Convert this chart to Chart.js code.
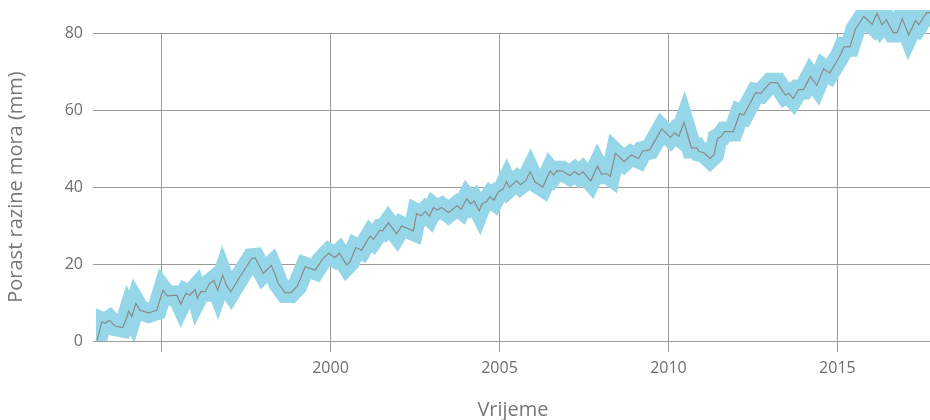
<!DOCTYPE html>
<html>
<head>
<meta charset="utf-8">
<script src="https://cdn.jsdelivr.net/npm/chart.js@4.4.1/dist/chart.umd.min.js"></script>
<style>
  html, body { margin: 0; padding: 0; background: #fff; }
  #wrap { width: 930px; height: 420px; }
</style>
</head>
<body>
<div id="wrap"><canvas id="seaChart"></canvas></div>
<script>
// vrijeme (decimalna godina) i porast razine mora u mm
var years = [
  1993.09, 1993.23, 1993.33, 1993.46, 1993.62, 1993.85, 1993.97, 1994.03, 1994.12, 1994.24,
  1994.36, 1994.61, 1994.86, 1995.04, 1995.17, 1995.45, 1995.57, 1995.72, 1995.84, 1995.99,
  1996.06, 1996.16, 1996.29, 1996.41, 1996.55, 1996.66, 1996.81, 1996.93, 1997.05, 1997.32,
  1997.67, 1997.77, 1998.01, 1998.25, 1998.35, 1998.45, 1998.66, 1998.82, 1999.02, 1999.25,
  1999.55, 1999.74, 1999.94, 2000.13, 2000.26, 2000.48, 2000.58, 2000.75, 2000.92, 2001.17,
  2001.27, 2001.46, 2001.54, 2001.71, 2001.96, 2002.10, 2002.45, 2002.55, 2002.68, 2002.80,
  2002.93, 2003.05, 2003.15, 2003.29, 2003.49, 2003.74, 2003.87, 2004.03, 2004.15, 2004.25,
  2004.40, 2004.48, 2004.62, 2004.72, 2004.84, 2004.97, 2005.10, 2005.21, 2005.29, 2005.51,
  2005.62, 2005.78, 2005.91, 2006.05, 2006.28, 2006.40, 2006.50, 2006.60, 2006.70, 2006.85,
  2007.08, 2007.23, 2007.35, 2007.46, 2007.70, 2007.90, 2008.02, 2008.17, 2008.28, 2008.43,
  2008.69, 2008.90, 2009.12, 2009.23, 2009.45, 2009.80, 2010.06, 2010.18, 2010.31, 2010.46,
  2010.56, 2010.68, 2010.83, 2010.90, 2011.05, 2011.23, 2011.35, 2011.45, 2011.56, 2011.66,
  2011.92, 2012.11, 2012.23, 2012.58, 2012.73, 2013.02, 2013.22, 2013.46, 2013.56, 2013.69,
  2013.85, 2014.00, 2014.20, 2014.39, 2014.59, 2014.77, 2014.99, 2015.10, 2015.19, 2015.37,
  2015.53, 2015.78, 2016.03, 2016.17, 2016.32, 2016.45, 2016.65, 2016.77, 2016.92, 2017.11,
  2017.31, 2017.41, 2017.64, 2017.80
];
var seaLevel = [
  0.1, 5.0, 4.6, 5.4, 3.9, 3.5, 6.1, 7.8, 6.3, 9.8,
  8.0, 7.3, 8.0, 13.2, 11.7, 11.9, 9.6, 12.4, 11.9, 13.4,
  11.1, 12.8, 12.8, 14.8, 15.8, 13.2, 17.1, 14.3, 12.8, 16.7,
  21.5, 21.6, 17.6, 19.6, 17.5, 15.0, 12.5, 12.5, 14.3, 19.3,
  18.4, 21.0, 22.8, 21.7, 22.8, 19.7, 20.6, 24.3, 23.6, 27.3,
  26.4, 28.8, 28.6, 30.7, 27.8, 29.9, 28.6, 33.1, 32.5, 33.6,
  32.5, 34.7, 34.0, 34.7, 33.3, 35.1, 34.2, 37.0, 35.6, 36.4,
  33.8, 35.6, 36.2, 37.5, 36.6, 38.8, 39.4, 41.4, 39.9, 41.6,
  40.6, 41.7, 44.0, 41.3, 40.0, 42.3, 44.2, 43.1, 44.2, 44.2,
  43.0, 44.0, 43.1, 44.0, 41.6, 45.4, 43.3, 43.5, 42.8, 48.8,
  46.6, 48.3, 47.4, 49.3, 49.7, 55.1, 52.9, 54.1, 53.2, 56.8,
  53.9, 50.1, 50.2, 49.2, 48.9, 47.4, 48.4, 52.6, 53.1, 54.4,
  54.4, 59.1, 58.7, 64.5, 64.3, 67.1, 67.1, 63.9, 64.3, 63.0,
  65.3, 65.3, 68.7, 66.4, 70.7, 69.6, 72.8, 74.5, 76.4, 76.4,
  80.9, 84.3, 82.3, 85.1, 82.1, 83.4, 80.1, 80.1, 83.8, 79.5,
  83.2, 82.2, 85.3, 85.3
];
var xTicks = [1995, 2000, 2005, 2010, 2015];
var xTickLabels = ['', '2000', '2005', '2010', '2015'];
var yTicks = [0, 20, 40, 60, 80];

var points = years.map(function(x, i) { return {x: x, y: seaLevel[i]}; });

// siljci pojasa nastaju iz miter spojeva debele linije
var miterPlugin = {
    id: 'miter',
    beforeDatasetDraw: function(chart) { chart.ctx.miterLimit = 3.4; }
};

var fontFam = "'Open Sans', Lato, sans-serif";
var ctx = document.getElementById('seaChart').getContext('2d');
var chart = new Chart(ctx, {
    type: 'line',
    data: {
        datasets: [{
            label: 'Porast razine mora',
            data: points,
            borderColor: '#8a8a8a',
            borderWidth: 1.2,
            pointRadius: 0,
            tension: 0,
            clip: {left: 0, top: 23, right: 0, bottom: 0}
        }, {
            label: 'Nesigurnost',
            data: points,
            borderColor: '#95d6e8',
            borderWidth: 20,
            borderJoinStyle: 'miter',
            borderCapStyle: 'butt',
            pointRadius: 0,
            tension: 0,
            clip: {left: 0, top: 23, right: 0, bottom: 0}
        }]
    },
    options: {
        animation: false,
        responsive: true,
        maintainAspectRatio: false,
        layout: { padding: { top: 33, right: 0, left: 0, bottom: 0 } },
        plugins: {
            legend: { display: false },
            tooltip: { enabled: false }
        },
        scales: {
            x: {
                type: 'linear',
                min: 1993.06,
                max: 2017.74,
                afterBuildTicks: function(s) { s.ticks = xTicks.map(function(v) { return {value: v}; }); },
                afterFit: function(s) { s.height = 79; },
                ticks: {
                    padding: 7,
                    color: '#6e6e6e',
                    font: { family: fontFam, size: 16 },
                    maxRotation: 0,
                    callback: function(v) { return xTickLabels[xTicks.indexOf(v)]; }
                },
                grid: { color: '#9b9b9b', lineWidth: 1, tickLength: 11 },
                border: { display: false },
                title: {
                    display: true,
                    text: 'Vrijeme',
                    color: '#777',
                    font: { family: fontFam, size: 20, lineHeight: 1 },
                    padding: 0
                }
            },
            y: {
                min: 0,
                max: 80,
                afterBuildTicks: function(s) { s.ticks = yTicks.map(function(v) { return {value: v}; }); },
                afterFit: function(s) { s.width = 96; },
                ticks: {
                    padding: 10,
                    color: '#6e6e6e',
                    font: { family: fontFam, size: 16 },
                    callback: function(v) { return String(v); }
                },
                grid: { color: '#9b9b9b', lineWidth: 1, tickLength: 3 },
                border: { display: false },
                title: {
                    display: true,
                    text: 'Porast razine mora (mm)',
                    color: '#777',
                    font: { family: fontFam, size: 20, lineHeight: 1 },
                    padding: { top: 6, bottom: 0 }
                }
            }
        }
    },
    plugins: [miterPlugin]
});
</script>
</body>
</html>
